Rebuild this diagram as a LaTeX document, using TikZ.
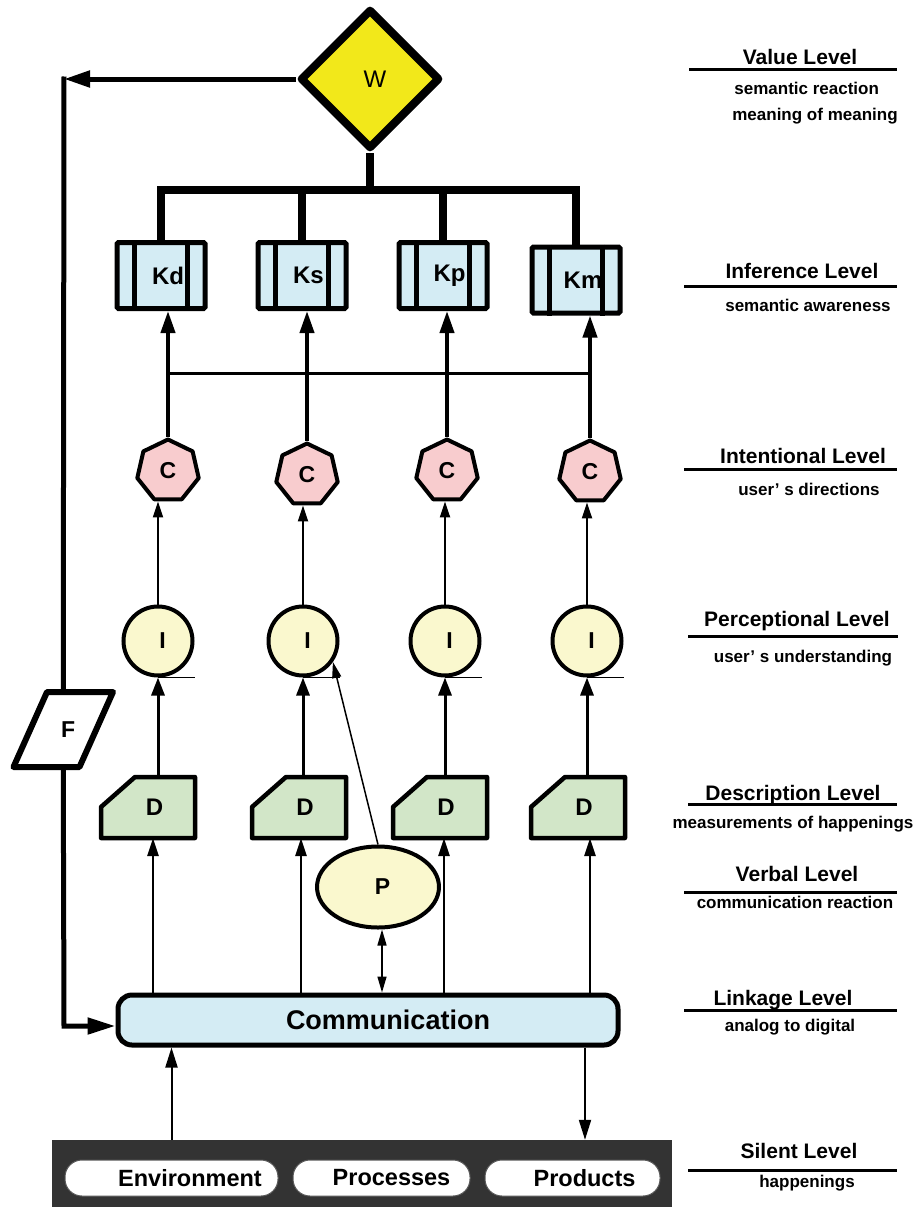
\documentclass[tikz,border=0pt]{standalone}
\usepackage{fontspec}
\setmainfont{Liberation Sans}
\usetikzlibrary{shapes.geometric,arrows.meta,backgrounds}

\definecolor{wyellow}{RGB}{242,232,26}
\definecolor{kblue}{RGB}{212,236,244}
\definecolor{cpink}{RGB}{248,204,206}
\definecolor{icream}{RGB}{250,248,206}
\definecolor{dgreen}{RGB}{210,230,200}
\definecolor{bardark}{RGB}{51,51,51}

\newcommand{\fsz}[1]{\fontsize{#1}{#1}\selectfont}

\begin{document}
\begin{tikzpicture}[x=1pt,y=-1pt,
  every node/.style={inner sep=0pt},
  diamondW/.style={diamond, draw, line width=8pt, line join=round, fill=wyellow,
    minimum width=140pt, minimum height=140pt, font=\fsz{24}},
  kbox/.style={rectangle, draw, line width=5pt, fill=kblue, rounded corners=1.5pt,
    minimum width=88pt, minimum height=66pt, font=\bfseries\fsz{24}},
  kbar/.style={line width=5pt},
  hepta/.style={regular polygon, regular polygon sides=7, draw, line width=4pt,
    line join=round, fill=cpink, minimum size=63pt, font=\bfseries\fsz{23}},
  icirc/.style={circle, draw, line width=4pt, fill=icream, minimum size=69pt,
    font=\bfseries\fsz{23}},
  dcard/.style={rectangle, outer sep=0pt, minimum width=94pt, minimum height=61pt,
    font=\bfseries\fsz{24}},
  dline/.style={draw, line width=4.5pt, line join=round, fill=dgreen},
  pnode/.style={ellipse, draw, line width=4pt, fill=icream, minimum width=122pt,
    minimum height=81pt, font=\bfseries\fsz{23}},
  commbox/.style={rectangle, draw, line width=5pt, rounded corners=14pt, fill=kblue,
    minimum width=500pt, minimum height=50pt, font=\bfseries\fsz{27}},
  pill/.style={rectangle, draw=gray!70!black, line width=1pt, rounded corners=17pt,
    fill=white, minimum height=36pt, font=\bfseries\fsz{23.5}},
  fnode/.style={rectangle, outer sep=0pt, minimum width=66pt, minimum height=75pt,
    font=\bfseries\fsz{23}},
  fline/.style={draw, line width=6pt, line join=round, fill=white},
  bus/.style={line width=8pt},
  fbline/.style={line width=5pt},
  ckarrow/.style={line width=4pt, -{Triangle[length=22pt,width=14pt]}},
  icarrow/.style={line width=2pt, -{Triangle[length=16pt,width=10pt]}},
  diarrow/.style={line width=3pt, -{Triangle[length=18pt,width=13pt]}},
  cdarrow/.style={line width=2.5pt, -{Triangle[length=18pt,width=11pt]}},
  parrow/.style={line width=1.5pt, -{Triangle[length=16pt,width=9pt]}},
  pdarrow/.style={line width=1.5pt, {Triangle[length=16pt,width=9pt]}-{Triangle[length=16pt,width=9pt]}},
  basearrow/.style={line width=2pt, -{Triangle[length=20pt,width=12pt]}},
  lvltitle/.style={anchor=base, font=\bfseries\fsz{21}},
  lvlsub/.style={anchor=base, font=\bfseries\fsz{17}},
  rule/.style={line width=3pt}
]
\useasboundingbox (0,0) rectangle (922,1207);

% value node and the four knowledge boxes
\node[diamondW] (W) at (370,79) {\hspace*{10pt}W};
\node[kbox] (Kd) at (161,275.5) {\hspace*{14pt}Kd};
\node[kbox] (Ks) at (302,275.5) {\hspace*{13pt}Ks};
\node[kbox] (Kp) at (443,275.5) {\hspace*{13pt}Kp};
\node[kbox] (Km) at (576,280) {\hspace*{14pt}Km};
\foreach \k in {Kd,Ks,Kp,Km}{
  \draw[kbar] ([xshift=20pt]\k.north west) -- ([xshift=20pt]\k.south west);
  \draw[kbar] ([xshift=-20pt]\k.north east) -- ([xshift=-20pt]\k.south east);
}

% bus from the value node down to the boxes
\coordinate (bus) at (370,190);
\draw[bus] (W.south) -- (W.south |- bus);
\draw[bus] (Kd.north) |- (Km.north |- bus) -- (Km.north);
\draw[bus] (Ks.north) -- (Ks.north |- bus);
\draw[bus] (Kp.north) -- (Kp.north |- bus);

% intentional level
\node[hepta] (C1) at (168,471) {C};
\node[hepta] (C2) at (307,475) {C};
\node[hepta] (C3) at (447,471) {C};
\node[hepta] (C4) at (590,472) {C};

% perceptional level
\node[icirc] (I1) at (158,641) {\hspace*{9pt}I};
\node[icirc] (I2) at (303,641) {\hspace*{9pt}I};
\node[icirc] (I3) at (445,641) {\hspace*{9pt}I};
\node[icirc] (I4) at (587,641) {\hspace*{9pt}I};
\foreach \i in {I1,I2,I3,I4}
  \draw[line width=1pt] (\i.south) -- (\i.south -| \i.east);

% description level
\node[dcard] (D1) at (148,807.5) {\hspace*{13pt}D};
\node[dcard] (D2) at (299,807.5) {\hspace*{12pt}D};
\node[dcard] (D3) at (440,807.5) {\hspace*{12pt}D};
\node[dcard] (D4) at (578,807.5) {\hspace*{12pt}D};

% verbal level
\node[pnode] (P) at (378,887) {\hspace*{9pt}P};

% linkage level
\node[commbox] (Comm) at (368,1020) {\hspace*{40pt}Communication};

% silent level
\node[fill=bardark, minimum width=620pt, minimum height=67pt] (bar) at (362,1173.5) {};
\node[pill, minimum width=213pt] (Env) at (171.5,1178) {\hspace*{37pt}Environment};
\node[pill, minimum width=177pt] (Proc) at (381.5,1178) {\hspace*{20pt}Processes};
\node[pill, minimum width=175pt] (Prod) at (572.5,1178) {\hspace*{24pt}Products};

% feedback
\node[fnode] (F) at (63.25,729.5) {\hspace*{10pt}F};

\begin{scope}[on background layer]
  \foreach \d in {D1,D2,D3,D4}
    \path[dline] (\d.south west) -- (\d.south east) -- (\d.north east)
      -- ([xshift=34pt]\d.north west) -- ([yshift=-30pt]\d.north west) -- cycle;
  \path[fline] ([xshift=16.75pt]F.north west) -- ([xshift=16.75pt]F.north east)
    -- ([xshift=-16.75pt]F.south east) -- ([xshift=-16.75pt]F.south west) -- cycle;
\end{scope}

% upward flow
\coordinate (cross) at (0,373);
\foreach \c/\k in {C1/Kd,C2/Ks,C3/Kp,C4/Km}
  \draw[ckarrow] (\c.north) -- (\c.north |- \k.south);
\draw[line width=3pt] (C1.north |- cross) -- (C4.north |- cross);
\foreach \i/\c in {I1/C1,I2/C2,I3/C3,I4/C4}
  \draw[icarrow] (\i.north) -- (\i.north |- \c.south);
\foreach \d/\i in {D1/I1,D2/I2,D3/I3,D4/I4}
  \draw[diarrow] (\i.south |- \d.north) -- (\i.south);
\draw[cdarrow] ([xshift=5pt]D1.south |- Comm.north) -- ([xshift=5pt]D1.south);
\draw[cdarrow] ([xshift=2pt]D2.south |- Comm.north) -- ([xshift=2pt]D2.south);
\draw[cdarrow] ([xshift=4pt]D3.south |- Comm.north) -- ([xshift=4pt]D3.south);
\draw[cdarrow] ([xshift=12pt]D4.south |- Comm.north) -- ([xshift=12pt]D4.south);
\draw[parrow] (P.north) -- (I2.-35);
\draw[pdarrow] ([xshift=4pt]P.south) -- ([xshift=4pt]P.south |- Comm.north);

% between communication and the happenings
\draw[basearrow] (Env.north |- bar.north) -- (Env.north |- Comm.south);
\draw[basearrow] ([xshift=12.5pt]Prod.north |- Comm.south) -- ([xshift=12.5pt]Prod.north |- bar.north);

% feedback loop
\coordinate (fbtop) at (64,79);
\coordinate (fbbot) at (64,1026);
\draw[fbline, -{Triangle[length=26pt,width=16pt]}] (W.west) -- (fbtop);
\draw[fbline] ([yshift=2.5pt]fbtop) -- (F.north);
\draw[fbline, -{Triangle[length=28pt,width=16pt]}] (F.south) -- (fbbot) -- (fbbot -| Comm.west);

% level captions
\node[lvltitle] (t1) at (800,65) {Value Level};
\draw[rule] (689,69.3) -- (897,69.3);
\node[lvlsub] (s1a) at (806.7,94) {semantic reaction};
\node[lvlsub] (s1b) at (815,120) {meaning of meaning};

\node[lvltitle] (t2) at (802,278.3) {Inference Level};
\draw[rule] (684,286) -- (897,286);
\node[lvlsub] (s2) at (808,311.7) {semantic awareness};

\node[lvltitle] (t3) at (803,463.3) {Intentional Level};
\draw[rule] (684,469) -- (897,469);
\node[lvlsub] (s3) at (809,495) {user’ s directions};

\node[lvltitle] (t4) at (797,626.7) {Perceptional Level};
\draw[rule] (688,636.7) -- (898,636.7);
\node[lvlsub] (s4) at (803,662) {user’ s understanding};

\node[lvltitle] (t5) at (793,800) {Description Level};
\draw[rule] (688,804) -- (897,804);
\node[lvlsub] (s5) at (793,828) {measurements of happenings};

\node[lvltitle] (t6) at (797,881.7) {Verbal Level};
\draw[rule] (684,892.7) -- (897,892.7);
\node[lvlsub] (s6) at (795,908) {communication reaction};

\node[lvltitle] (t7) at (783,1005) {Linkage Level};
\draw[rule] (684,1010) -- (897,1010);
\node[lvlsub] (s7) at (790,1031) {analog to digital};

\node[lvltitle] (t8) at (799,1158) {Silent Level};
\draw[rule] (688,1170) -- (897,1170);
\node[lvlsub] (s8) at (807,1187) {happenings};
\end{tikzpicture}
\end{document}
